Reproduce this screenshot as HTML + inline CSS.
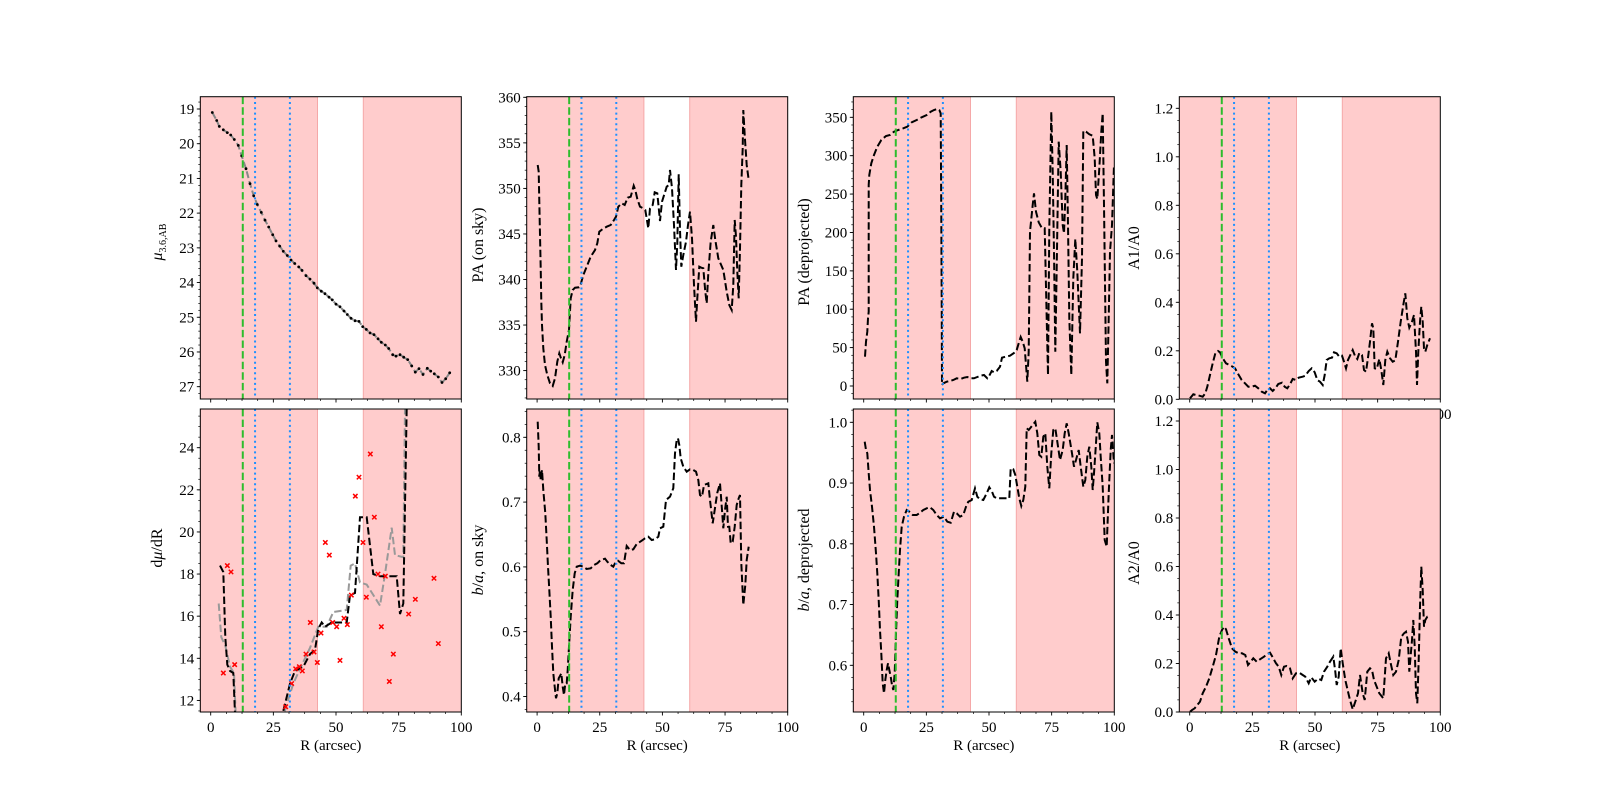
<!DOCTYPE html>
<html><head><meta charset="utf-8"><style>body{margin:0;background:#fff}svg{display:block}svg text{font-family:"Liberation Serif",serif}</style></head>
<body><svg id="s" width="1600" height="800" xmlns="http://www.w3.org/2000/svg"></svg>
<script>
const S=document.getElementById('s');let h='';
const cols=[200.3,526.7,853.3,1179.3],W=261;
const rows=[[96.7,399],[409,712]];
function xp(c,R){return cols[c]+10.4+R*2.506;}
const panels=[
 {c:0,r:0,map:v=>109+(v-19)*34.71,lo:18.65,hi:27.35,maj:[19,27,1],mn:0.2,fmt:v=>v.toFixed(0)},
 {c:0,r:1,map:v=>447.7+(24-v)*21.06,lo:11.49,hi:25.84,maj:[12,24,2],mn:0.5,fmt:v=>v.toFixed(0)},
 {c:1,r:0,map:v=>97.3+(360-v)*9.11,lo:326.9,hi:360,maj:[330,360,5],mn:1,fmt:v=>v.toFixed(0)},
 {c:1,r:1,map:v=>437.3+(0.8-v)*648,lo:0.376,hi:0.844,maj:[0.4,0.8,0.1],mn:0.02,fmt:v=>v.toFixed(1)},
 {c:2,r:0,map:v=>386-v*0.7677,lo:-17,hi:376.8,maj:[0,350,50],mn:10,fmt:v=>v.toFixed(0)},
 {c:2,r:1,map:v=>422.3+(1-v)*607.5,lo:0.523,hi:1.022,maj:[0.6,1.0,0.1],mn:0.02,fmt:v=>v.toFixed(1)},
 {c:3,r:0,map:v=>399.3-v*242.5,lo:0,hi:1.25,maj:[0,1.2,0.2],mn:0.05,fmt:v=>v.toFixed(1)},
 {c:3,r:1,map:v=>712-v*242.5,lo:0,hi:1.25,maj:[0,1.2,0.2],mn:0.05,fmt:v=>v.toFixed(1)}
];
h+=`<text x="1440.3" y="419" font-size="15" text-anchor="middle">100</text>`;
h+='<defs>';panels.forEach((p,i)=>{const[t,b]=rows[p.r];h+=`<clipPath id="c${i}"><rect x="${cols[p.c]}" y="${t}" width="${W}" height="${b-t}"/></clipPath>`});h+='</defs>';
function zl(pts,ox,oy){return pts.map(q=>(ox+q[0]/3).toFixed(1)+','+(oy+q[1]/3).toFixed(1)).join(' ');}
const data={};
data.mu=[[217,19.1],[230,19.33],[238,19.5],[250,19.6],[262,19.68],[272,19.75],[283,19.88],[295,20.05],[305,20.35],[318,20.72],[330,21.15],[341,21.5],[352,21.75],[364,21.98],[375,22.2],[386,22.4],[398,22.62],[408,22.8],[419,22.95],[430,23.1],[442,23.22],[453,23.35],[464,23.45],[476,23.55],[486,23.65],[498,23.8],[510,23.9],[522,24.02],[532,24.15],[544,24.25],[555,24.32],[567,24.42],[577,24.5],[588,24.62],[600,24.7],[612,24.82],[622,24.92],[633,25.03],[645,25.1],[657,25.12],[668,25.27],[679,25.35],[690,25.45],[702,25.5],[714,25.62],[724,25.72],[736,25.8],[746,25.9],[758,26.08],[768,26.12],[780,26.08],[791,26.15],[803,26.22],[815,26.4],[826,26.58],[837,26.48],[849,26.65],[862,26.47],[872,26.55],[883,26.63],[895,26.72],[906,26.88],[917,26.77],[929,26.6]];
const dk1=[[[240,18.4],[250,18.1],[256,15],[262,13.7],[270,13.4],[280,13.3],[285,11.4],[288,11.0]],[[428,11.0],[430,11.5],[450,12.8],[465,13.4],[490,13.6],[510,14.2],[525,14.4],[535,15.4],[545,15.7],[555,15.5],[575,15.7],[620,15.7],[630,17.0],[645,17.1],[660,20.7],[680,20.7],[700,18.0],[720,17.9],[770,17.9],[780,16.1],[790,16.6],[800,25.9]]];
const gr1=[[[236,16.6],[244,15],[256,14.6],[270,13.6],[282,13.3],[288,11]],[[426,11],[440,11.8],[460,12.8],[480,13.5],[510,14.5],[535,15.5],[560,15.5],[580,16.2],[620,16.3],[632,18.4],[645,18.5],[660,17.6],[680,17.5],[720,16.5],[735,18],[755,20.2],[765,18.9],[790,18.8],[795,25.9]]];
const rx=[[250,13.3],[262,18.4],[273,18.1],[284,13.7],[437,11.7],[455,12.8],[467,13.5],[478,13.6],[487,13.4],[498,14.2],[511,15.7],[522,14.3],[532,13.8],[543,15.2],[556,19.5],[568,18.9],[578,15.7],[590,15.5],[600,13.9],[612,15.9],[622,15.6],[634,17.0],[646,21.7],[657,22.6],[669,19.5],[679,16.9],[691,23.7],[703,20.7],[714,18.0],[724,15.5],[736,17.9],[748,12.9],[760,14.2],[806,16.1],[826,16.8],[882,17.8],[895,14.7]];
const P2t=[[233,240],[236,260],[238,350],[240,450],[242,550],[244,650],[246,720],[250,790],[255,840],[262,870],[270,895],[278,903],[285,880],[292,830],[298,805],[303,820],[308,832],[314,810],[320,770],[327,735],[332,640],[338,615],[345,608],[357,607],[362,598],[370,570],[380,545],[392,515],[405,495],[412,475],[418,440],[428,432],[440,425],[452,420],[462,405],[468,395],[475,365],[485,355],[494,360],[503,338],[512,335],[521,302],[526,315],[532,342],[540,365],[550,370],[556,375],[565,430],[570,370],[578,360],[584,322],[592,325],[600,408],[606,350],[613,328],[620,305],[626,300],[630,255],[636,310],[642,420],[648,555],[652,475],[656,268],[660,435],[664,545],[670,510],[678,470],[684,420],[690,380],[696,460],[702,600],[708,710],[712,640],[718,545],[724,548],[730,550],[736,620],[740,655],[745,565],[752,470],[760,420],[766,465],[775,520],[790,555],[800,620],[808,660],[815,675],[820,600],[824,405],[828,455],[832,560],[836,640],[840,490],[844,300],[848,190],[850,75],[854,150],[860,240],[866,285]];
const P2b=[[233,65],[236,140],[238,230],[240,210],[242,240],[246,210],[250,270],[256,340],[260,420],[264,500],[268,570],[272,650],[276,740],[280,820],[284,860],[288,895],[292,880],[296,835],[300,828],[304,820],[308,860],[312,885],[316,850],[320,850],[323,810],[327,740],[332,650],[338,570],[344,520],[350,500],[360,497],[370,500],[380,507],[392,505],[402,495],[412,490],[422,480],[435,476],[442,485],[452,495],[460,500],[466,488],[474,482],[484,490],[492,490],[500,438],[510,450],[520,448],[530,432],[545,422],[555,415],[565,410],[575,420],[585,418],[595,410],[600,385],[610,380],[618,300],[630,290],[640,265],[645,160],[650,120],[654,115],[658,135],[662,175],[670,200],[680,215],[690,208],[700,210],[708,215],[715,240],[720,285],[726,290],[732,255],[745,250],[750,300],[758,370],[764,330],[772,278],[780,250],[786,330],[790,385],[795,330],[800,290],[804,380],[808,380],[812,430],[818,425],[824,380],[830,315],[836,295],[840,285],[844,490],[850,615],[856,555],[860,480],[866,440]];
const P3t=[[225,815],[228,770],[232,740],[234,700],[236,680],[236,300],[238,270],[244,235],[252,210],[262,185],[274,165],[288,153],[300,150],[312,140],[325,135],[340,130],[352,125],[365,112],[380,105],[395,97],[410,90],[422,80],[432,75],[442,72],[448,75],[452,85],[454,400],[455,650],[456,900],[460,895],[470,890],[480,888],[490,885],[500,880],[512,882],[522,878],[532,876],[542,880],[552,880],[562,876],[572,872],[582,870],[592,880],[598,872],[605,858],[612,862],[620,858],[630,845],[636,818],[646,815],[660,812],[672,804],[680,795],[686,775],[692,756],[698,770],[704,790],[712,890],[716,800],[720,440],[728,360],[732,325],[738,380],[746,412],[756,430],[764,430],[770,700],[774,870],[778,430],[784,80],[788,260],[792,500],[796,800],[800,550],[806,170],[812,260],[818,420],[822,445],[826,340],[830,180],[834,420],[838,700],[844,870],[850,580],[856,462],[862,560],[870,745],[876,520],[880,138],[888,140],[898,148],[908,152],[914,220],[918,330],[922,342],[928,250],[934,140],[938,85],[942,360],[948,830],[952,895],[956,700],[960,500],[966,420],[972,240]];
const P3b=[[224,125],[228,150],[232,160],[236,220],[240,270],[246,320],[252,380],[258,460],[262,520],[266,600],[270,690],[274,760],[278,850],[282,880],[286,840],[290,810],[294,790],[298,810],[302,830],[306,855],[310,870],[314,820],[318,700],[322,600],[326,520],[330,450],[335,380],[342,350],[350,330],[358,335],[368,345],[380,345],[390,338],[400,330],[410,325],[420,322],[430,330],[440,345],[450,355],[462,350],[472,365],[482,368],[492,335],[500,340],[510,350],[520,345],[528,320],[535,305],[545,300],[555,265],[562,290],[570,298],[580,300],[590,280],[598,262],[606,275],[612,290],[620,295],[640,295],[658,295],[662,205],[670,208],[676,225],[682,260],[688,295],[694,318],[700,300],[706,260],[710,85],[716,90],[724,80],[736,65],[742,100],[748,165],[754,170],[760,110],[766,100],[772,200],[778,265],[784,160],[790,90],[796,85],[802,125],[810,180],[818,150],[824,100],[830,70],[836,100],[846,160],[852,200],[858,180],[866,150],[872,200],[880,260],[886,240],[892,170],[898,140],[904,200],[908,270],[912,220],[918,130],[922,67],[928,100],[932,170],[938,260],[944,420],[950,440],[956,280],[962,150],[966,105],[972,190]];
const P4t=[[210,940],[214,935],[220,928],[228,930],[238,932],[248,935],[256,925],[262,905],[270,870],[278,835],[286,805],[294,798],[300,802],[308,820],[318,835],[328,840],[338,845],[345,850],[355,868],[365,885],[375,895],[385,905],[395,905],[405,902],[415,910],[425,920],[435,925],[442,915],[450,910],[458,918],[466,910],[475,897],[486,893],[494,905],[502,910],[510,898],[518,882],[528,885],[536,878],[548,875],[556,872],[566,858],[575,850],[584,862],[592,885],[600,890],[608,900],[614,870],[620,825],[628,820],[636,818],[642,802],[650,805],[658,815],[666,812],[672,830],[678,850],[684,825],[690,812],[698,795],[706,815],[712,822],[718,804],[726,810],[732,855],[738,860],[744,818],[750,770],[756,715],[760,730],[764,850],[770,852],[778,822],[784,855],[790,900],[796,825],[802,800],[810,820],[818,830],[826,826],[834,770],[842,710],[850,660],[856,625],[862,700],[868,728],[876,710],[882,690],[888,800],[891,900],[895,800],[900,710],[904,665],[908,710],[912,790],[916,800],[922,780],[930,760]];
const P4b=[[210,935],[216,930],[224,925],[232,915],[240,905],[248,880],[258,860],[268,835],[278,800],[288,765],[298,710],[306,690],[312,680],[318,688],[326,715],[336,745],[346,755],[356,760],[366,760],[376,765],[384,795],[392,785],[400,775],[410,785],[420,778],[432,770],[442,762],[450,758],[458,772],[468,790],[476,800],[484,825],[492,800],[500,798],[510,805],[518,835],[528,820],[538,818],[548,825],[556,830],[566,850],[574,832],[584,845],[594,836],[604,840],[612,815],[622,800],[630,785],[640,770],[646,815],[650,855],[656,830],[662,745],[668,790],[676,840],[684,875],[690,900],[698,928],[706,905],[714,880],[720,825],[728,880],[734,900],[742,815],[750,805],[756,810],[762,840],[770,860],[778,880],[790,895],[798,775],[806,760],[812,790],[820,825],[828,815],[836,780],[844,710],[852,700],[858,695],[864,725],[868,815],[876,720],[880,660],[884,740],[888,880],[892,910],[896,780],[900,620],[904,500],[908,570],[912,680],[916,660],[922,650],[930,648]];
const DASH='stroke="#000" stroke-width="2" fill="none" stroke-dasharray="7.4,3.2"';
panels.forEach((p,i)=>{
 const[t,b]=rows[p.r],L=cols[p.c];
 h+=`<g clip-path="url(#c${i})">`;
 h+=`<rect x="${L}" y="${t}" width="${(xp(p.c,42.6)-L).toFixed(1)}" height="${b-t}" fill="#ffcccc" stroke="#f5a8a8" stroke-width="1"/>`;
 h+=`<rect x="${xp(p.c,60.9).toFixed(1)}" y="${t}" width="${(L+W-xp(p.c,60.9)+2).toFixed(1)}" height="${b-t}" fill="#ffcccc" stroke="#f5a8a8" stroke-width="1"/>`;
 if(i==0){
   const pts=data.mu.map(q=>[140+q[0]/3,p.map(q[1])]);
   h+=`<polyline points="${pts.map(q=>q[0].toFixed(1)+','+q[1].toFixed(1)).join(' ')}" stroke="#888" stroke-width="2" fill="none" stroke-dasharray="7,3"/>`;
   pts.forEach(q=>h+=`<circle cx="${q[0].toFixed(1)}" cy="${q[1].toFixed(1)}" r="1.4" fill="#000"/>`);
 }
 if(i==1){
   gr1.forEach(s=>h+=`<polyline points="${s.map(q=>(140+q[0]/3).toFixed(1)+','+p.map(q[1]).toFixed(1)).join(' ')}" stroke="#999" stroke-width="2" fill="none" stroke-dasharray="7.4,3.2"/>`);
   dk1.forEach(s=>h+=`<polyline points="${s.map(q=>(140+q[0]/3).toFixed(1)+','+p.map(q[1]).toFixed(1)).join(' ')}" ${DASH}/>`);
   rx.forEach(q=>{const x=140+q[0]/3,y=p.map(q[1]);h+=`<path d="M${x-2.2},${y-2.2}L${x+2.2},${y+2.2}M${x-2.2},${y+2.2}L${x+2.2},${y-2.2}" stroke="#f00" stroke-width="1.5"/>`;});
 }
 const zmap={2:[P2t,460,85],3:[P2b,460,400],4:[P3t,790,85],5:[P3b,790,400],6:[P4t,1120,85],7:[P4b,1120,400]};
 if(zmap[i]) h+=`<polyline points="${zl(...zmap[i])}" ${DASH}/>`;
 h+=`<line x1="${xp(p.c,12.8)}" x2="${xp(p.c,12.8)}" y1="${t}" y2="${b}" stroke="#2dbd2d" stroke-width="2" stroke-dasharray="7.4,3.2"/>`;
 [17.7,31.6].forEach(R=>h+=`<line x1="${xp(p.c,R)}" x2="${xp(p.c,R)}" y1="${t}" y2="${b}" stroke="#1e90ff" stroke-width="2" stroke-dasharray="2,3.3"/>`);
 h+='</g>';
 h+=`<rect x="${L}" y="${t}" width="${W}" height="${b-t}" fill="none" stroke="#000" stroke-width="1"/>`;
 for(let R=0;R<=100.01;R+=6.25){const x=xp(p.c,R);if(x>L+W+0.5)continue;const maj=Math.abs(R%25)<0.01;h+=`<line x1="${x}" x2="${x}" y1="${b}" y2="${b+(maj?3.5:2)}" stroke="#000" stroke-width="${maj?0.9:0.7}"/>`;
  if(maj&&p.r==1)h+=`<text x="${x}" y="${b+20}" font-size="15" text-anchor="middle">${R}</text>`;}
 const[m0,m1,ms]=p.maj;
 for(let v=Math.ceil(p.lo/p.mn-1e-6)*p.mn;v<=p.hi+1e-9;v+=p.mn){const y=p.map(v);if(y<t-0.5||y>b+0.5)continue;h+=`<line x1="${L-2}" x2="${L}" y1="${y}" y2="${y}" stroke="#000" stroke-width="0.7"/>`;}
 for(let v=m0;v<=m1+1e-9;v+=ms){const y=p.map(v);h+=`<line x1="${L-3.5}" x2="${L}" y1="${y}" y2="${y}" stroke="#000" stroke-width="0.9"/><text x="${L-6}" y="${y+5}" font-size="15" text-anchor="end">${p.fmt(v)}</text>`;}
 if(p.r==1)h+=`<text x="${L+W/2}" y="${b+38}" font-size="15" text-anchor="middle">R (arcsec)</text>`;
});
function yl(x,y,s){h+=`<text transform="translate(${x},${y}) rotate(-90)" font-size="16" text-anchor="middle">${s}</text>`;}
yl(162,242,'<tspan font-style="italic">μ</tspan><tspan font-size="10" dy="4">3.6,AB</tspan>');
yl(162,548,'d<tspan font-style="italic">μ</tspan>/dR');
yl(483,245,'PA (on sky)');
yl(483,560,'<tspan font-style="italic">b</tspan>/<tspan font-style="italic">a</tspan>, on sky');
yl(809,252,'PA (deprojected)');
yl(809,560,'<tspan font-style="italic">b</tspan>/<tspan font-style="italic">a</tspan>, deprojected');
yl(1139,248,'A1/A0');
yl(1139,563,'A2/A0');
S.innerHTML=h;
</script></body></html>
